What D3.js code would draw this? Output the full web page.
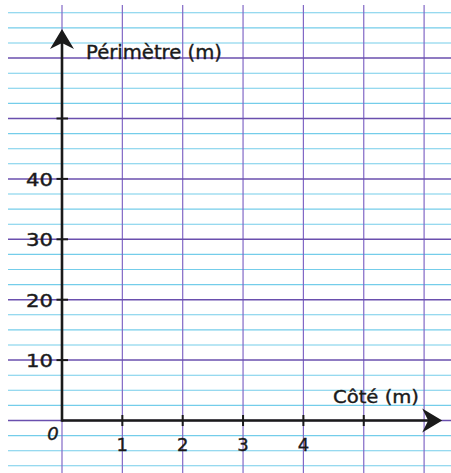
<!DOCTYPE html>
<html>
<head>
<meta charset="utf-8">
<script src="https://cdn.jsdelivr.net/npm/d3@7"></script>
<style>
	body { margin: 0; background: #fff; }
	svg { display: block; }
	text { font-family: "DejaVu Sans", sans-serif; fill: #1a1a1a; stroke: #1a1a1a; stroke-width: 0.4; }
</style>
</head>
<body>
<script>
// données du graphique
const xTicks = [1, 2, 3, 4, 5];
const xTickLabels = ["1", "2", "3", "4", ""];
const yTicks = [10, 20, 30, 40, 50];
const yTickLabels = ["10", "20", "30", "40", ""];
const xTitle = "Côté (m)";
const yTitle = "Périmètre (m)";

const w = 451,
	h = 473;

// échelles : 1 m = 60.35 px, 10 m = 60.4 px
const x = d3.scaleLinear().domain([0, 1]).range([62, 122.35]);
const y = d3.scaleLinear().domain([0, 10]).range([420.5, 360.1]);

const svg = d3.select("body").append("svg")
	.attr("width", w)
	.attr("height", h);

// quadrillage Seyès : lignes fines tous les 2.5, lignes épaisses tous les 10
const thin = d3.range(-7.5, 70, 2.5).filter(v => v % 10 !== 0);
const thick = d3.range(-10, 70, 10);
const vert = d3.range(0, 7, 1);

svg.append("g").selectAll("line")
	.data(thin.filter(v => y(v) > 5 && y(v) < h))
	.join("line")
	.attr("x1", 8).attr("x2", w)
	.attr("y1", d => y(d)).attr("y2", d => y(d))
	.attr("stroke", "#74cdea")
	.attr("stroke-width", 1.1);

svg.append("g").selectAll("line")
	.data(vert)
	.join("line")
	.attr("x1", d => x(d)).attr("x2", d => x(d))
	.attr("y1", 5).attr("y2", h)
	.attr("stroke", "#8268c6")
	.attr("stroke-width", 1.2);

svg.append("g").selectAll("line")
	.data(thick.filter(v => y(v) > 5 && y(v) < h))
	.join("line")
	.attr("x1", 8).attr("x2", w)
	.attr("y1", d => y(d)).attr("y2", d => y(d))
	.attr("stroke", "#6a4fae")
	.attr("stroke-width", 1.5);

// axes
const xEnd = 6.3,
	yEnd = 64.8;
const ax = svg.append("g").attr("stroke", "#1a1a1a");

ax.append("line")
	.attr("x1", x(0)).attr("x2", x(xEnd) - 10)
	.attr("y1", y(0)).attr("y2", y(0))
	.attr("stroke-width", 2.6);

ax.append("line")
	.attr("x1", x(0)).attr("x2", x(0))
	.attr("y1", y(0) + 1.3).attr("y2", y(yEnd) + 10)
	.attr("stroke-width", 2.6);

// flèches
svg.append("path")
	.attr("d", `M0,0 L-12,20 L0,14 L12,20 Z`)
	.attr("transform", `translate(${x(0)},${y(yEnd)})`)
	.attr("fill", "#1a1a1a");

svg.append("path")
	.attr("d", `M0,0 L-12,20 L0,14 L12,20 Z`)
	.attr("transform", `translate(${x(xEnd)},${y(0)}) rotate(90)`)
	.attr("fill", "#1a1a1a");

// graduations
ax.selectAll(".xt")
	.data(xTicks)
	.join("line")
	.attr("x1", d => x(d)).attr("x2", d => x(d))
	.attr("y1", y(0) - 5.5).attr("y2", y(0) + 5.5)
	.attr("stroke-width", 2);

ax.selectAll(".yt")
	.data(yTicks)
	.join("line")
	.attr("x1", x(0) - 5.5).attr("x2", x(0) + 6)
	.attr("y1", d => y(d)).attr("y2", d => y(d))
	.attr("stroke-width", 2);

svg.append("g").selectAll("text")
	.data(xTicks)
	.join("text")
	.attr("x", d => x(d))
	.attr("y", y(0) + 30)
	.attr("text-anchor", "middle")
	.attr("font-size", "18px")
	.text((d, i) => xTickLabels[i]);

svg.append("g").selectAll("text")
	.data(yTicks)
	.join("text")
	.attr("x", x(0) - 9)
	.attr("y", d => y(d) + 7)
	.attr("text-anchor", "end")
	.attr("font-size", "18px")
	.attr("textLength", 27)
	.attr("lengthAdjust", "spacingAndGlyphs")
	.text((d, i) => yTickLabels[i]);

svg.append("text")
	.attr("x", x(0) - 9)
	.attr("y", y(0) + 19.5)
	.attr("text-anchor", "middle")
	.attr("font-size", "18px")
	.attr("font-style", "italic")
	.text("0");

// titres des axes
svg.append("text")
	.attr("x", 86)
	.attr("y", 58.5)
	.attr("font-size", "20px")
	.attr("textLength", 136)
	.attr("lengthAdjust", "spacingAndGlyphs")
	.text(yTitle);

svg.append("text")
	.attr("x", 333)
	.attr("y", 403)
	.attr("font-size", "18px")
	.attr("textLength", 86)
	.attr("lengthAdjust", "spacingAndGlyphs")
	.text(xTitle);
</script>
</body>
</html>
